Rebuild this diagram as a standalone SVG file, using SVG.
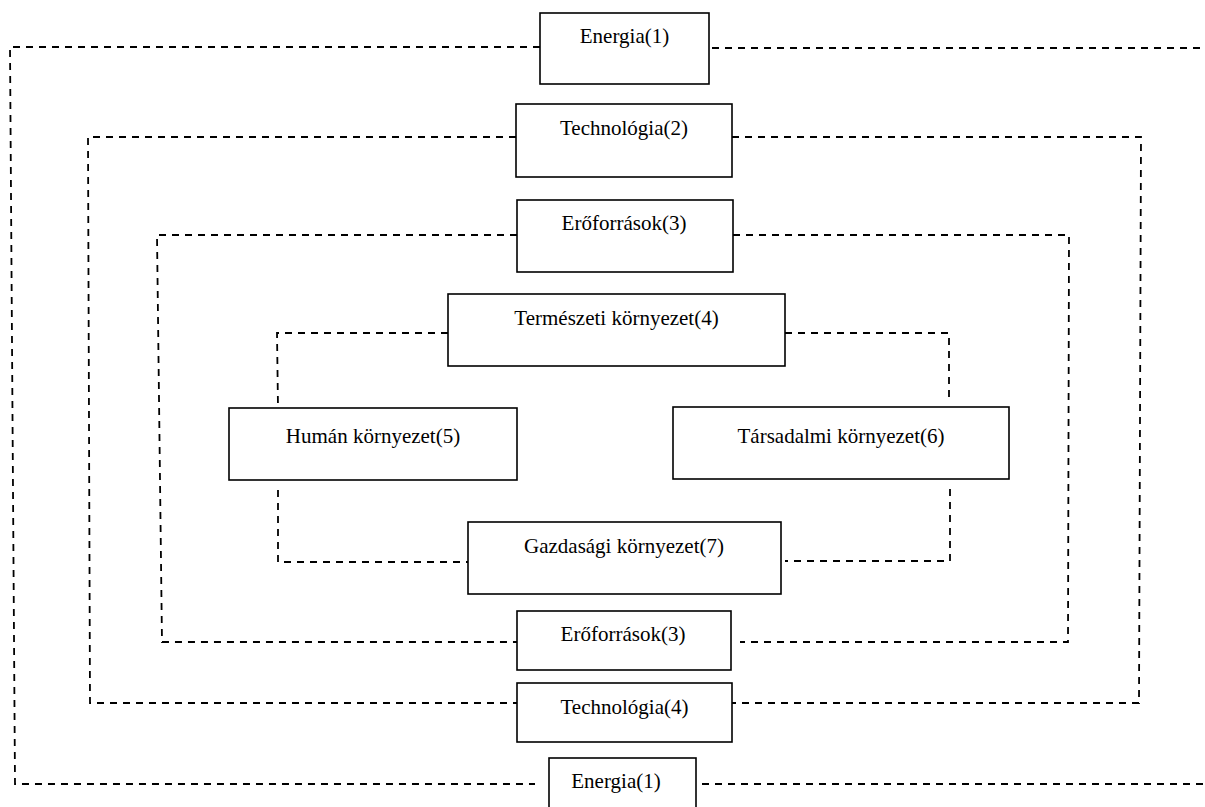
<svg xmlns="http://www.w3.org/2000/svg" width="1205" height="807" viewBox="0 0 1205 807">
<style>
.box{fill:#fff;stroke:#000;stroke-width:1.6}
.lbl{font-family:"Liberation Serif","Times New Roman",serif;font-size:21px;fill:#000;text-anchor:middle}
.dash{fill:none;stroke:#000;stroke-width:1.8;stroke-dasharray:7 6}
</style>
<rect width="1205" height="807" fill="#fff"/>
<g id="connectors">
<path class="dash" d="M540,47 L10,47 L15,784 L535,784"/>
<path class="dash" d="M712,48 L1205,48"/>
<path class="dash" d="M702,784 L1205,784"/>
<path class="dash" d="M516,137 L88,137 L90,703 L517,703"/>
<path class="dash" d="M732,137 L1141,137 L1139,703 L732,703"/>
<path class="dash" d="M517,235 L157,235 L162,642 L517,642"/>
<path class="dash" d="M733,235 L1069,235 L1068,642 L740,642"/>
<path class="dash" d="M448,333 L277,333 L278,408"/>
<path class="dash" d="M785,333 L949,333 L949,400"/>
<path class="dash" d="M278,490 L278,562 L468,562"/>
<path class="dash" d="M950,489 L950,561 L785,561"/>
</g>
<g id="energia-top"><rect class="box" x="540" y="13" width="169" height="71"/><text class="lbl" x="624.5" y="43">Energia(1)</text></g>
<g id="technologia-top"><rect class="box" x="516" y="104" width="216" height="73"/><text class="lbl" x="624" y="135">Technológia(2)</text></g>
<g id="eroforrasok-top"><rect class="box" x="517" y="200" width="216" height="72"/><text class="lbl" x="624" y="230">Erőforrások(3)</text></g>
<g id="termeszeti"><rect class="box" x="448" y="294" width="337" height="72"/><text class="lbl" x="616.5" y="325">Természeti környezet(4)</text></g>
<g id="human"><rect class="box" x="229" y="408" width="288" height="72"/><text class="lbl" x="373" y="443">Humán környezet(5)</text></g>
<g id="tarsadalmi"><rect class="box" x="673" y="407" width="336" height="72"/><text class="lbl" x="841" y="443">Társadalmi környezet(6)</text></g>
<g id="gazdasagi"><rect class="box" x="468" y="522" width="313" height="72"/><text class="lbl" x="624" y="553">Gazdasági környezet(7)</text></g>
<g id="eroforrasok-bottom"><rect class="box" x="517" y="611" width="214" height="59"/><text class="lbl" x="623" y="641">Erőforrások(3)</text></g>
<g id="technologia-bottom"><rect class="box" x="517" y="683" width="215" height="59"/><text class="lbl" x="624.5" y="714">Technológia(4)</text></g>
<g id="energia-bottom"><rect class="box" x="549" y="758" width="147" height="60"/><text class="lbl" x="616" y="788">Energia(1)</text></g>
</svg>
